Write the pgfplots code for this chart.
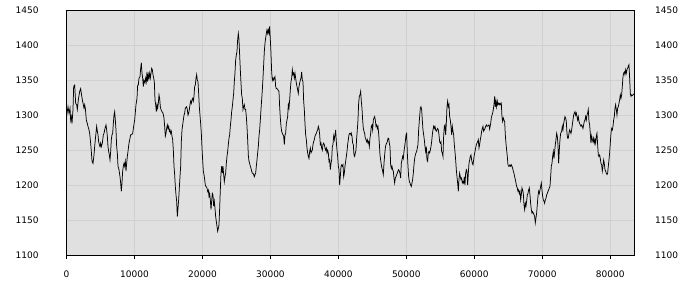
\documentclass[border=0pt]{standalone}
\usepackage{fontspec}
\setmainfont{DejaVu Sans}
\usepackage{pgfplots}
\pgfplotsset{compat=1.18}
\definecolor{bgc}{RGB}{224,224,224}
\definecolor{gridc}{RGB}{208,208,208}
\pgfplotsset{
  common/.style={
    scale only axis, width=567.8bp, height=244.7bp,
    at={(0,0)}, anchor=south west,
    xmin=0, xmax=83540, ymin=1100, ymax=1450,
    xtick={0,10000,...,80000}, ytick={1100,1150,...,1450},
    /pgf/number format/1000 sep={},
    /pgf/number format/assume math mode=true,
    scaled x ticks=false,
    tick label style={font=\fontsize{9bp}{10bp}\selectfont, text=black},
  }
}
\begin{document}
\begin{tikzpicture}
\useasboundingbox (-66.5bp,-45bp) rectangle (633.5bp,255bp);
\begin{axis}[common,
  axis background/.style={fill=bgc},
  grid=major, major grid style={draw=gridc, line width=0.9bp},
  axis line style={black, line width=1bp},
  xtick pos=bottom, ytick pos=left,
  tick align=outside,
  xtick style={black, line width=0.8bp, /pgfplots/major tick length=4bp},
  ytick style={/pgfplots/major tick length=0pt, draw=none},
  xticklabel style={anchor=north, inner sep=0pt, yshift=-11bp},
  yticklabel style={anchor=east, inner sep=0pt, xshift=-23.5bp},
]
\addplot[black, line width=0.75bp, mark=none] coordinates {
(0,1298) (221,1312) (368,1303) (515,1310) (613,1293) (711,1298) (809,1288) (956,1308) (1054,1341) (1201,1343) (1349,1317) (1496,1315) (1594,1308) (1741,1322) (1937,1334) (2084,1338) (2182,1331) (2329,1322) (2476,1315) (2574,1310) (2672,1315) (2771,1310) (2918,1293) (3065,1288) (3163,1284) (3310,1279) (3408,1274) (3555,1260) (3653,1248) (3752,1234) (3899,1231) (4046,1243) (4144,1255) (4291,1270) (4438,1284) (4536,1277) (4634,1272) (4732,1262) (4830,1258) (4928,1255) (5026,1260) (5125,1255) (5272,1260) (5419,1272) (5517,1274) (5664,1281) (5811,1286) (5909,1279) (6007,1270) (6105,1255) (6204,1248) (6302,1243) (6400,1236) (6498,1248) (6596,1265) (6694,1272) (6792,1274) (6890,1288) (6988,1300) (7086,1305) (7184,1293) (7282,1279) (7380,1255) (7478,1246) (7577,1227) (7724,1222) (7871,1212) (7969,1203) (8067,1191) (8165,1203) (8263,1220) (8361,1227) (8459,1231) (8557,1227) (8655,1234) (8753,1220) (8851,1231) (8950,1241) (9048,1248) (9195,1260) (9342,1267) (9440,1272) (9587,1272) (9734,1274) (9881,1284) (10029,1293)
(10225,1315) (10372,1324) (10470,1343) (10568,1343) (10666,1353) (10814,1355) (10912,1367) (11010,1375) (11108,1360) (11206,1353) (11304,1341) (11402,1350) (11549,1346) (11647,1353) (11745,1348) (11843,1362) (11941,1348) (12040,1358) (12138,1353) (12236,1360) (12334,1353) (12432,1360) (12530,1367) (12628,1365) (12726,1358) (12824,1353) (12922,1348) (13020,1322) (13118,1315) (13216,1305) (13314,1315) (13413,1310) (13511,1317) (13609,1329) (13707,1324) (13805,1312) (13903,1308) (14050,1305) (14197,1303) (14344,1296) (14442,1284) (14541,1270) (14639,1274) (14737,1281) (14835,1286) (14933,1281) (15031,1284) (15129,1277) (15227,1279) (15325,1274) (15423,1277) (15521,1270) (15619,1265) (15718,1250) (15816,1227) (15914,1215) (16012,1198) (16110,1186) (16208,1177) (16306,1155) (16404,1167) (16503,1179) (16601,1196) (16699,1212) (16797,1227) (16895,1262) (16993,1279) (17091,1286) (17189,1293) (17287,1300) (17385,1303) (17483,1310) (17582,1311) (17680,1312) (17778,1308) (17876,1300) (17974,1303) (18072,1308) (18170,1315) (18268,1320) (18366,1317) (18464,1322) (18562,1324) (18660,1320) (18758,1327) (18856,1341) (18954,1343) (19052,1353) (19150,1358) (19248,1350) (19347,1348) (19445,1331) (19543,1312) (19641,1300) (19739,1288) (19837,1274) (19935,1253) (20033,1236) (20131,1220) (20230,1215) (20328,1208) (20426,1200)
(20523,1198) (20670,1196) (20768,1191) (20866,1193) (20964,1184) (21062,1188) (21161,1179) (21259,1165) (21357,1177) (21455,1188) (21553,1186) (21651,1170) (21749,1177) (21847,1167) (21945,1155) (22043,1148) (22141,1141) (22239,1134) (22337,1138) (22435,1143) (22534,1167) (22632,1193) (22730,1217) (22828,1227) (22926,1217) (23024,1227) (23122,1215) (23220,1205) (23318,1212) (23416,1217) (23514,1231) (23612,1241) (23710,1248) (23808,1258) (23907,1267) (24005,1272) (24103,1284) (24201,1293) (24299,1305) (24397,1312) (24495,1322) (24593,1331) (24691,1348) (24789,1360) (24888,1379) (24986,1386) (25084,1391) (25182,1408) (25280,1417) (25378,1408) (25476,1386) (25574,1365) (25672,1346) (25770,1329) (25868,1324) (25966,1308) (26064,1312) (26162,1315) (26261,1308) (26359,1308) (26457,1298) (26555,1284) (26653,1265) (26751,1243) (26849,1234) (26947,1231) (27045,1227) (27143,1224) (27241,1220) (27340,1217) (27438,1217) (27536,1215) (27634,1212) (27732,1215) (27830,1217) (27928,1227) (28026,1236) (28124,1246) (28222,1255) (28320,1270) (28419,1279) (28517,1293) (28615,1308) (28713,1322) (28811,1336) (28909,1353) (29007,1372) (29105,1391) (29203,1403) (29301,1410) (29399,1417) (29498,1422) (29596,1417) (29694,1422) (29792,1417) (29890,1427) (29988,1408) (30086,1389) (30184,1362) (30282,1350) (30380,1353) (30478,1350) (30577,1353) (30675,1355) (30773,1341) (30871,1338)
(30969,1338) (31116,1336) (31263,1334) (31361,1312) (31459,1296) (31558,1284) (31656,1277) (31754,1274) (31852,1272) (31950,1270) (32048,1258) (32146,1272) (32244,1274) (32342,1288) (32440,1293) (32538,1298) (32636,1315) (32735,1310) (32833,1322) (32931,1336) (33029,1348) (33127,1353) (33225,1365) (33323,1358) (33421,1360) (33519,1353) (33617,1360) (33716,1353) (33814,1346) (33912,1341) (34010,1336) (34108,1331) (34206,1341) (34304,1346) (34402,1350) (34500,1353) (34598,1362) (34696,1350) (34795,1348) (34893,1320) (34991,1308) (35089,1288) (35187,1272) (35285,1265) (35383,1253) (35481,1246) (35579,1241) (35677,1238) (35775,1248) (35873,1253) (35971,1246) (36069,1248) (36168,1250) (36266,1258) (36364,1262) (36462,1265) (36560,1270) (36658,1272) (36756,1274) (36854,1277) (36952,1279) (37050,1284) (37148,1281) (37247,1272) (37345,1258) (37443,1260) (37541,1253) (37639,1250) (37737,1258) (37835,1260) (37933,1258) (38031,1253) (38129,1250) (38227,1253) (38325,1246) (38423,1250) (38521,1246) (38620,1234) (38718,1236) (38816,1222) (38914,1231) (39012,1236) (39110,1255) (39208,1258) (39306,1270) (39404,1265) (39502,1272) (39600,1279) (39699,1262) (39797,1250) (39895,1241) (39993,1227) (40091,1222) (40189,1200) (40287,1212) (40385,1227) (40483,1229) (40581,1227) (40679,1229) (40777,1212) (40875,1217) (40974,1227) (41072,1234) (41170,1241) (41268,1248) (41366,1258) (41464,1265) (41562,1272) (41660,1274) (41758,1274) (41856,1272)
(41904,1274) (42002,1270) (42100,1260) (42199,1258) (42297,1243) (42395,1241) (42493,1246) (42591,1250) (42689,1267) (42787,1279) (42885,1293) (42983,1317) (43081,1327) (43179,1329) (43278,1334) (43376,1320) (43474,1310) (43572,1293) (43670,1281) (43768,1277) (43866,1274) (43964,1267) (44062,1265) (44160,1262) (44258,1265) (44357,1260) (44455,1262) (44553,1255) (44651,1267) (44749,1274) (44847,1284) (44945,1286) (45043,1279) (45141,1293) (45239,1296) (45337,1298) (45436,1293) (45534,1284) (45632,1286) (45730,1281) (45828,1284) (45926,1274) (46024,1260) (46122,1243) (46220,1236) (46318,1229) (46416,1224) (46515,1220) (46613,1215) (46711,1231) (46809,1243) (46907,1253) (47005,1258) (47103,1260) (47201,1262) (47299,1267) (47397,1267) (47495,1260) (47594,1255) (47692,1229) (47790,1224) (47888,1227) (47986,1222) (48084,1220) (48182,1210) (48280,1203) (48378,1210) (48476,1212) (48574,1215) (48673,1217) (48771,1220) (48869,1222) (48967,1220) (49065,1217) (49163,1210) (49261,1231) (49359,1236) (49457,1241) (49555,1238) (49653,1248) (49752,1255) (49850,1262) (49948,1272) (50046,1274) (50144,1246) (50242,1227) (50340,1212) (50438,1205) (50536,1203) (50634,1200) (50732,1198) (50831,1203) (50929,1208) (51027,1217) (51125,1229) (51223,1238) (51321,1243) (51419,1246) (51517,1248) (51615,1253) (51713,1258) (51811,1279)
(51958,1298) (52056,1310) (52154,1312) (52252,1308) (52350,1293) (52448,1279) (52546,1272) (52644,1265) (52743,1255) (52841,1248) (52939,1255) (53037,1236) (53135,1234) (53233,1246) (53331,1248) (53429,1246) (53527,1250) (53625,1255) (53723,1262) (53822,1272) (53920,1279) (54018,1284) (54116,1281) (54214,1284) (54312,1279) (54410,1277) (54508,1279) (54606,1281) (54704,1279) (54802,1272) (54901,1262) (54999,1260) (55097,1262) (55195,1248) (55293,1246) (55391,1241) (55489,1270) (55587,1284) (55685,1286) (55783,1272) (55881,1288) (55980,1312) (56078,1320) (56176,1312) (56274,1315) (56372,1298) (56470,1293) (56568,1284) (56666,1272) (56764,1284) (56862,1277) (56960,1272) (57058,1258) (57157,1248) (57255,1236) (57353,1222) (57451,1212) (57549,1203) (57647,1191) (57745,1208) (57843,1217) (57941,1212) (58039,1208) (58138,1210) (58236,1203) (58334,1205) (58432,1203) (58530,1212) (58628,1200) (58726,1217) (58824,1222) (58922,1220) (59020,1200) (59118,1217) (59217,1231) (59315,1236) (59413,1241) (59511,1243) (59609,1236) (59707,1231) (59805,1229) (59903,1236) (60001,1243) (60099,1248) (60197,1253) (60296,1258) (60394,1260) (60492,1262) (60590,1265) (60688,1253) (60786,1258) (60884,1265) (60982,1270) (61080,1277) (61178,1281) (61276,1284) (61375,1277) (61473,1279) (61571,1281) (61669,1284) (61767,1286) (61865,1284) (61963,1284) (62061,1286) (62159,1286) (62257,1280)
(62403,1288) (62501,1296) (62599,1300) (62697,1303) (62795,1308) (62894,1315) (62992,1327) (63090,1312) (63188,1320) (63286,1312) (63384,1320) (63482,1315) (63580,1317) (63678,1315) (63776,1317) (63874,1315) (63973,1317) (64071,1298) (64169,1291) (64267,1296) (64365,1293) (64463,1291) (64561,1272) (64659,1260) (64757,1250) (64855,1241) (64953,1229) (65052,1227) (65150,1227) (65248,1229) (65346,1227) (65444,1229) (65542,1227) (65640,1224) (65738,1220) (65836,1217) (65934,1212) (66032,1208) (66131,1203) (66229,1198) (66327,1196) (66425,1191) (66523,1193) (66621,1188) (66719,1191) (66817,1179) (66915,1186) (67013,1196) (67111,1193) (67210,1188) (67308,1172) (67406,1165) (67504,1174) (67602,1170) (67700,1177) (67798,1186) (67896,1188) (67994,1193) (68092,1196) (68190,1186) (68289,1174) (68387,1165) (68485,1160) (68583,1162) (68681,1160) (68779,1158) (68877,1155) (68975,1146) (69073,1153) (69171,1160) (69269,1172) (69368,1184) (69466,1191) (69564,1188) (69662,1193) (69760,1198) (69858,1203) (69956,1193) (70054,1184) (70152,1179) (70250,1177) (70348,1174) (70447,1179) (70545,1181) (70643,1186) (70741,1188) (70839,1191) (70937,1193) (71035,1196) (71133,1198) (71231,1212) (71329,1227) (71427,1231) (71526,1241) (71624,1248) (71722,1238) (71820,1248) (71918,1258) (72016,1265) (72114,1274) (72212,1270) (72310,1258) (72408,1231) (72506,1250) (72605,1265) (72703,1274)
(72848,1277) (72946,1284) (73044,1279) (73143,1288) (73241,1293) (73339,1298) (73437,1296) (73535,1291) (73633,1274) (73731,1267) (73829,1267) (73927,1274) (74025,1279) (74123,1277) (74221,1274) (74320,1279) (74418,1286) (74516,1293) (74614,1300) (74712,1303) (74810,1305) (74908,1300) (75006,1303) (75104,1298) (75202,1293) (75300,1298) (75399,1291) (75497,1288) (75595,1286) (75693,1284) (75791,1286) (75889,1284) (75987,1281) (76085,1286) (76183,1291) (76281,1293) (76380,1298) (76478,1293) (76576,1300) (76674,1303) (76772,1308) (76870,1291) (76968,1286) (77066,1274) (77164,1260) (77262,1270) (77360,1265) (77459,1262) (77557,1267) (77655,1260) (77753,1265) (77851,1260) (77949,1270) (78047,1274) (78145,1258) (78243,1243) (78341,1241) (78440,1243) (78538,1238) (78636,1231) (78734,1229) (78832,1220) (78930,1227) (79028,1236) (79126,1231) (79224,1222) (79322,1220) (79420,1217) (79519,1215) (79617,1217) (79715,1227) (79813,1236) (79911,1246) (80009,1260) (80107,1274) (80205,1281) (80303,1279) (80401,1284) (80499,1293) (80598,1298) (80696,1310) (80794,1315) (80892,1308) (80990,1300) (81088,1310) (81186,1312) (81284,1317) (81382,1322) (81480,1329) (81578,1324) (81677,1329) (81775,1341) (81873,1355) (81971,1360) (82069,1362) (82167,1358) (82265,1365) (82363,1360) (82461,1365) (82559,1367) (82657,1370) (82756,1372) (82854,1353) (82952,1331) (83050,1327) (83148,1329) (83246,1328) (83344,1329) (83540,1331)
};
\end{axis}
\begin{axis}[common,
  hide x axis,
  axis y line*=right,
  axis line style={draw=none},
  ytick style={/pgfplots/major tick length=0pt, draw=none},
  yticklabel style={anchor=west, inner sep=0pt, xshift=20.7bp},
]
\end{axis}
\end{tikzpicture}
\end{document}
